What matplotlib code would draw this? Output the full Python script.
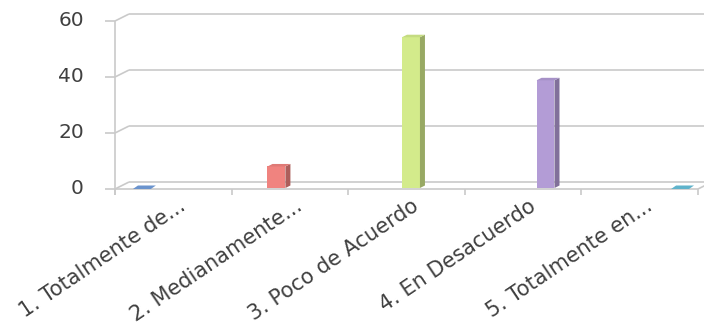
import matplotlib.pyplot as plt
import numpy as np

# chart data (percent of answers)
categories = [
    "1. Totalmente de...",
    "2. Medianamente...",
    "3. Poco de Acuerdo",
    "4. En Desacuerdo",
    "5. Totalmente en...",
]
values = [0.0, 7.69, 53.85, 38.46, 0.0]
y_ticks = [0, 20, 40, 60]
bar_colors = ["#6a93cd", "#f0837f", "#d3eb8b", "#b39cd6", "#5fb3cb"]


def _shade(color, f):
    rgb = np.array(plt.matplotlib.colors.to_rgb(color))
    return tuple(np.clip(rgb * f, 0, 1))


fig = plt.figure(figsize=(7.04, 3.27), dpi=100)
ax = fig.add_axes([115 / 704, 1 - 189 / 327, 583 / 704, 168 / 327])
ax.set_xlim(0, len(categories))
ax.set_ylim(0, y_ticks[-1])
ax.axis("off")

# size of one pixel in data units
px = len(categories) / 583
py = y_ticks[-1] / 168
wall_dx, wall_dy = 14 * px, 7 * py
n = len(categories)

grid = dict(color="#cacaca", lw=1.2, clip_on=False, solid_capstyle="butt", zorder=1)

# back wall gridlines, connectors and left ticks
for v in y_ticks:
    ax.plot([0, wall_dx], [v, v + wall_dy], **grid)
    ax.plot([wall_dx, n + wall_dx], [v + wall_dy] * 2, **grid)
    ax.plot([-10 * px, 0], [v, v], **grid)
    ax.text(-31 * px, v, str(v), ha="right", va="center", fontsize=14.5,
            color="#404040")

# front axes
ax.plot([0, 0], [-6 * py, y_ticks[-1]], **grid)
ax.plot([0, n], [0, 0], **grid)
ax.plot([n, n + wall_dx], [0, wall_dy], **grid)
for k in range(n + 1):
    ax.plot([k, k], [0, -6 * py], **grid)

# 3d-looking bars, one series per category like the original clustered chart
bar_w = 1 / 6.5
bdx, bdy = 5 * px, 2.5 * py
base = 1 * py
for i, (val, col) in enumerate(zip(values, bar_colors)):
    x0 = i + (i + 1) * bar_w
    x1 = x0 + bar_w
    top = base + val
    if val > 0:
        ax.fill([x0, x1, x1, x0], [base, base, top, top], color=col, lw=0,
                zorder=3, clip_on=False)
        ax.fill([x1, x1 + bdx, x1 + bdx, x1],
                [base, base + bdy, top + bdy, top],
                color=_shade(col, 0.72), lw=0, zorder=3, clip_on=False)
        ax.fill([x0, x1, x1 + bdx, x0 + bdx], [top, top, top + bdy, top + bdy],
                color=_shade(col, 0.93), lw=0, zorder=3, clip_on=False)
    else:
        ax.fill([x0, x1, x1 + bdx, x0 + bdx],
                [base - py, base - py, base + bdy, base + bdy],
                color=col, lw=0, zorder=3, clip_on=False)

# rotated category labels
for i, lab in enumerate(categories):
    ax.text(i + 0.5 + 14 * px, -20 * py, lab, rotation=34, rotation_mode="anchor",
            ha="right", va="baseline", fontsize=15, color="#404040")

fig.savefig("out.png", dpi=100)
